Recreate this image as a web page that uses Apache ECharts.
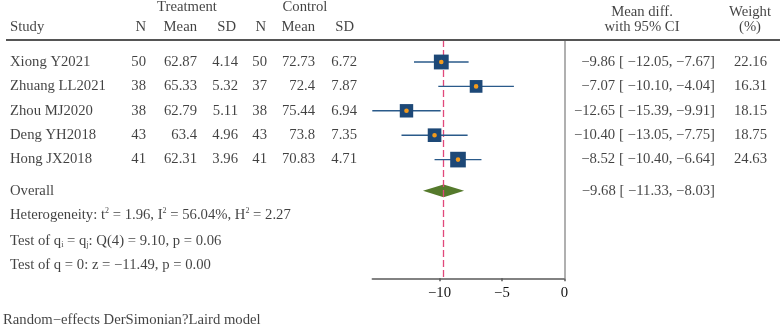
<!DOCTYPE html>
<html>
<head>
<meta charset="utf-8">
<script src="https://cdn.jsdelivr.net/npm/echarts@6/dist/echarts.min.js"></script>
<style>
  html, body { margin: 0; padding: 0; background: #fff; }
  #chart { width: 782px; height: 325px; }
</style>
</head>
<body>
<div id="chart"></div>
<script>
// study table
const studies = ['Xiong Y2021', 'Zhuang LL2021', 'Zhou MJ2020', 'Deng YH2018', 'Hong JX2018'];
const nTreat = [50, 38, 38, 43, 41];
const meanTreat = [62.87, 65.33, 62.79, 63.4, 62.31];
const sdTreat = [4.14, 5.32, 5.11, 4.96, 3.96];
const nCtrl = [50, 37, 38, 43, 41];
const meanCtrl = [72.73, 72.4, 75.44, 73.8, 70.83];
const sdCtrl = [6.72, 7.87, 6.94, 7.35, 4.71];

// effect sizes
const meanDiff = [-9.86, -7.07, -12.65, -10.40, -8.52];
const ciLow = [-12.05, -10.10, -15.39, -13.05, -10.40];
const ciHigh = [-7.67, -4.04, -9.91, -7.75, -6.64];
const weights = [22.16, 16.31, 18.15, 18.75, 24.63];
const overall = [-9.68, -11.33, -8.03]; // estimate, low, high

const xTicks = [-10, -5, 0];

// layout (rows are in "row units", pixels only for grids)
const W = 782, H = 325;
const ROW_TOP = 62, ROW_STEP = 24.4;
const HEAD_Y = 40, AXIS_Y = 278.3;
const studyRows = [1, 2, 3, 4, 5];
const overallRow = 6.28;
const statRows = [7.27, 8.34, 9.34];
const headRow1 = -1.25, headRow1b = -1.03, headRow2 = -0.42, footRow = 11.57;
const toRow = px => 1 + (px - ROW_TOP) / ROW_STEP;

const FONT = 'Liberation Serif';
const FS = 14.7;
const TXT = '#111';
const BOX = '#1d4877';
const CI = '#2a5a8a';
const DOT = '#f39a1c';
const DIAMOND = '#557a2c';
const REF = '#e0487a';

const minus = v => (v < 0 ? '\u2212' : '') + Math.abs(v).toFixed(2);
const ciText = (e, l, h) => minus(e) + ' [ ' + minus(l) + ', ' + minus(h) + ']';

const rich = {
  sup: { fontFamily: FONT, fontSize: 8, color: TXT, verticalAlign: 'top', lineHeight: 8 },
  sub: { fontFamily: FONT, fontSize: 8, color: TXT, verticalAlign: 'bottom', lineHeight: 8 }
};

function textCol(x, rows, texts, align) {
  return {
    type: 'scatter',
    xAxisIndex: 1, yAxisIndex: 1,
    symbolSize: 0,
    silent: true,
    clip: false,
    data: texts.map((t, i) => [x, rows[i], t]),
    label: {
      show: true, position: 'inside', align: align, verticalAlign: 'middle',
      fontFamily: FONT, fontSize: FS, color: TXT, lineHeight: 16,
      formatter: p => p.value[2],
      rich: rich
    }
  };
}

const statTexts = [
  'Heterogeneity: t{sup|2} = 1.96, I{sup|2} = 56.04%, H{sup|2} = 2.27',
  'Test of q{sub|i} = q{sub|j}: Q(4) = 9.10, p = 0.06',
  'Test of q = 0: z = \u221211.49, p = 0.00'
];

const chart = echarts.init(document.getElementById('chart'), null, { renderer: 'canvas' });

const option = {
  animation: false,
  backgroundColor: '#fff',
  grid: [
    { left: 372.3, width: 192, top: HEAD_Y, bottom: H - AXIS_Y },
    { left: 0, right: 0, top: 0, bottom: 0 }
  ],
  xAxis: [
    {
      type: 'value', gridIndex: 0, min: ciLow[2], max: 0,
      splitLine: { show: false },
      axisLine: { show: true, onZero: false, lineStyle: { color: '#5a5a5a', width: 1.5 } },
      axisTick: { show: true, length: 3, customValues: xTicks, lineStyle: { color: '#5a5a5a', width: 1.5 } },
      axisLabel: {
        customValues: xTicks, margin: 7, color: TXT, fontFamily: FONT, fontSize: FS,
        formatter: v => (v < 0 ? '\u2212' + Math.abs(v) : String(v))
      }
    },
    { type: 'value', gridIndex: 1, min: 0, max: W, show: false }
  ],
  yAxis: [
    { type: 'value', gridIndex: 0, inverse: true, min: toRow(HEAD_Y), max: toRow(AXIS_Y), show: false },
    { type: 'value', gridIndex: 1, inverse: true, min: toRow(0), max: toRow(H), show: false }
  ],
  series: [
    // study boxes with CIs
    {
      type: 'custom',
      xAxisIndex: 0, yAxisIndex: 0,
      silent: true,
      data: meanDiff.map((m, i) => [m, studyRows[i], ciLow[i], ciHigh[i], weights[i]]),
      renderItem: (params, api) => {
        const row = api.value(1);
        const p = api.coord([api.value(0), row]);
        const pl = api.coord([api.value(2), row]);
        const ph = api.coord([api.value(3), row]);
        const s = 3.15 * Math.sqrt(api.value(4));
        return {
          type: 'group',
          children: [
            { type: 'line', shape: { x1: pl[0], y1: pl[1], x2: ph[0], y2: ph[1] }, style: { stroke: CI, lineWidth: 1.4 } },
            { type: 'rect', shape: { x: p[0] - s / 2, y: p[1] - s / 2, width: s, height: s }, style: { fill: BOX } },
            { type: 'circle', shape: { cx: p[0], cy: p[1], r: 2.3 }, style: { fill: DOT } }
          ]
        };
      },
      z: 5
    },
    // overall diamond + reference lines
    {
      type: 'custom',
      xAxisIndex: 0, yAxisIndex: 0,
      silent: true,
      data: [[overall[0], overallRow, overall[1], overall[2]]],
      renderItem: (params, api) => {
        const row = api.value(1);
        const c = api.coord([api.value(0), row]);
        const l = api.coord([api.value(2), row]);
        const h = api.coord([api.value(3), row]);
        const hh = 6.3;
        return {
          type: 'polygon',
          shape: { points: [[l[0], c[1]], [c[0], c[1] - hh], [h[0], c[1]], [c[0], c[1] + hh]] },
          style: { fill: DIAMOND }
        };
      },
      markLine: {
        silent: true, symbol: 'none', label: { show: false },
        data: [
          { xAxis: 0, lineStyle: { color: '#b0b0b0', width: 2, type: 'solid' } },
          { xAxis: overall[0], lineStyle: { color: REF, width: 1.3, type: [7, 3] } }
        ]
      },
      z: 4
    },
    // header rule
    {
      type: 'scatter', xAxisIndex: 1, yAxisIndex: 1, symbolSize: 0, silent: true, data: [],
      markLine: {
        silent: true, symbol: 'none', label: { show: false },
        lineStyle: { color: '#555', width: 2, type: 'solid' },
        data: [[{ coord: [6, toRow(HEAD_Y)] }, { coord: [780, toRow(HEAD_Y)] }]]
      }
    },
    // headers
    textCol(187, [headRow1], ['Treatment'], 'center'),
    textCol(305, [headRow1], ['Control'], 'center'),
    textCol(642, [headRow1b, headRow2], ['Mean diff.', 'with 95% CI'], 'center'),
    textCol(750, [headRow1b, headRow2], ['Weight', '(%)'], 'center'),
    textCol(10, [headRow2], ['Study'], 'left'),
    textCol(146, [headRow2], ['N'], 'right'),
    textCol(197, [headRow2], ['Mean'], 'right'),
    textCol(236, [headRow2], ['SD'], 'right'),
    textCol(266, [headRow2], ['N'], 'right'),
    textCol(315, [headRow2], ['Mean'], 'right'),
    textCol(354, [headRow2], ['SD'], 'right'),
    // study rows
    textCol(10, studyRows, studies, 'left'),
    textCol(146, studyRows, nTreat.map(String), 'right'),
    textCol(197, studyRows, meanTreat.map(String), 'right'),
    textCol(238, studyRows, sdTreat.map(String), 'right'),
    textCol(267, studyRows, nCtrl.map(String), 'right'),
    textCol(315, studyRows, meanCtrl.map(String), 'right'),
    textCol(357, studyRows, sdCtrl.map(String), 'right'),
    textCol(715, studyRows, meanDiff.map((m, i) => ciText(m, ciLow[i], ciHigh[i])), 'right'),
    textCol(767, studyRows, weights.map(w => w.toFixed(2)), 'right'),
    // overall + stats
    textCol(10, [overallRow], ['Overall'], 'left'),
    textCol(715, [overallRow], [ciText(overall[0], overall[1], overall[2])], 'right'),
    textCol(10, statRows, statTexts, 'left'),
    textCol(3, [footRow], ['Random\u2212effects DerSimonian?Laird model'], 'left')
  ]
};

chart.setOption(option);
</script>
</body>
</html>
